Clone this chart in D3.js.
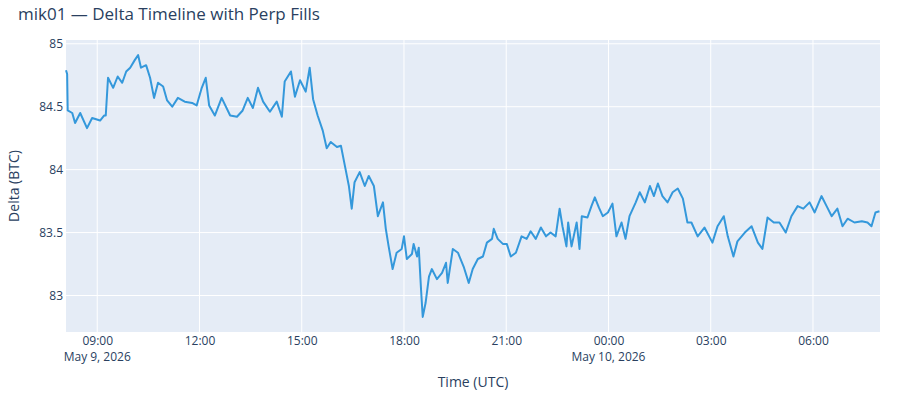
<!DOCTYPE html>
<html lang="en">
<head>
<meta charset="UTF-8">
<title>Delta Timeline</title>
<script src="https://cdn.jsdelivr.net/npm/d3@7"></script>
<style>
  body { margin: 0; background: #fff; font-family: "Open Sans", sans-serif; }
  text { fill: #2a3f5f; }
</style>
</head>
<body>
<script>
// minutes after 2026-05-09 08:00 UTC
const minutes = [5,7,8,16,21,30,42,51,65,72,75,79,88,96,104,111,118,126,132,137,146,153,160,167,176,183,192,202,214,227,235,244,251,257,267,279,294,306,316,325,334,343,352,364,376,385,390,401,408,417,427,434,440,
  448,457,464,471,482,489,496,503,508,513,522,531,538,547,554,563,568,573,580,587,596,600,605,614,617,623,626,630,633,638,644,649,658,667,674,677,686,695,705,714,721,730,739,746,755,758,765,774,781,788,797,807,816,823,832,841,850,858,867,874,879,886,
  889,895,904,909,913,923,930,936,943,950,959,967,974,983,990,997,1008,1015,1024,1033,1040,1047,1055,1064,1073,1082,1091,1099,1106,1117,1129,1143,1152,1163,1170,1180,1187,1200,1212,1223,1231,1240,1251,1261,1272,1282,1293,1303,1314,1323,1335,1344,1353,1363,1372,1381,1393,1406,1416,1423,1430,1437];
const delta = [84.79,84.76,84.47,84.45,84.37,84.45,84.33,84.41,84.39,84.43,84.43,84.73,84.65,84.74,84.69,84.78,84.81,84.87,84.91,84.81,84.83,84.73,84.57,84.69,84.66,84.55,84.50,84.57,84.54,84.53,84.51,84.65,84.73,84.51,84.43,84.57,84.43,84.42,84.47,84.57,84.49,84.65,84.54,84.46,84.54,84.42,84.70,84.78,84.58,84.71,84.62,84.81,84.56,
  84.43,84.31,84.17,84.22,84.18,84.19,84.03,83.87,83.69,83.90,83.98,83.87,83.95,83.87,83.63,83.74,83.53,83.39,83.21,83.34,83.37,83.47,83.29,83.33,83.41,83.31,83.38,83.05,82.83,82.94,83.15,83.21,83.13,83.18,83.26,83.10,83.37,83.34,83.23,83.10,83.21,83.29,83.31,83.42,83.45,83.53,83.45,83.41,83.41,83.31,83.34,83.47,83.45,83.51,83.45,83.54,83.47,83.50,83.47,83.69,83.55,83.39,
  83.58,83.39,83.58,83.37,83.63,83.62,83.71,83.78,83.70,83.63,83.66,83.73,83.47,83.58,83.45,83.63,83.74,83.82,83.74,83.87,83.79,83.89,83.79,83.74,83.82,83.85,83.77,83.58,83.58,83.47,83.54,83.42,83.55,83.63,83.47,83.31,83.43,83.50,83.55,83.42,83.37,83.62,83.58,83.58,83.50,83.63,83.71,83.69,83.74,83.66,83.79,83.71,83.63,83.69,83.55,83.61,83.58,83.59,83.58,83.55,83.66,83.67];
const yTicks = [83, 83.5, 84, 84.5, 85];
const xTickHours = ["09:00","12:00","15:00","18:00","21:00","00:00","03:00","06:00"];

const width = 900, height = 400;
const m = {left: 66, right: 20, top: 40, bottom: 68};
const t0 = Date.UTC(2026, 4, 9, 8, 0);
const toDate = mm => new Date(t0 + mm * 60000);

const svg = d3.select("body").append("svg").attr("width", width).attr("height", height);

const x = d3.scaleUtc().domain([toDate(5), toDate(1438)]).range([m.left, width - m.right]);
const y = d3.scaleLinear().domain([82.71, 85.03]).range([height - m.bottom, m.top]);

svg.append("rect").attr("x", m.left).attr("y", m.top)
  .attr("width", width - m.left - m.right).attr("height", height - m.top - m.bottom)
  .attr("fill", "#e5ecf6");

const xTicks = xTickHours.map((s, i) => toDate(60 + i * 180));

// grid
svg.append("g").selectAll("line").data(xTicks).join("line")
  .attr("x1", d => x(d)).attr("x2", d => x(d)).attr("y1", m.top).attr("y2", height - m.bottom)
  .attr("stroke", "#fff").attr("stroke-width", 1);
svg.append("g").selectAll("line").data(yTicks).join("line")
  .attr("x1", m.left).attr("x2", width - m.right).attr("y1", d => y(d)).attr("y2", d => y(d))
  .attr("stroke", "#fff").attr("stroke-width", 1);

// axes labels
const xAxis = d3.axisBottom(x).tickValues(xTicks).tickSize(0).tickPadding(4)
  .tickFormat((d, i) => xTickHours[i]);
const gx = svg.append("g").attr("transform", `translate(0,${height - m.bottom})`).call(xAxis);
gx.select(".domain").remove();
gx.selectAll("text").attr("font-size", 12).attr("fill", "#2a3f5f").attr("font-family", "Open Sans");

const dates = [[xTicks[0], "May 9, 2026"], [xTicks[5], "May 10, 2026"]];
svg.append("g").selectAll("text").data(dates).join("text")
  .attr("x", d => x(d[0])).attr("y", height - m.bottom + 29)
  .attr("text-anchor", "middle").attr("font-size", 12).text(d => d[1]);

const yAxis = d3.axisLeft(y).tickValues(yTicks).tickSize(0).tickPadding(3).tickFormat(d3.format("~g"));
const gy = svg.append("g").attr("transform", `translate(${m.left},0)`).call(yAxis);
gy.select(".domain").remove();
gy.selectAll("text").attr("font-size", 12).attr("fill", "#2a3f5f").attr("font-family", "Open Sans");

// line
const line = d3.line().x((d, i) => x(toDate(minutes[i]))).y(d => y(d));
svg.append("path").datum(delta).attr("d", line)
  .attr("fill", "none").attr("stroke", "#3498db").attr("stroke-width", 2).attr("stroke-linejoin", "round");

// titles
svg.append("text").attr("x", 18).attr("y", 20).attr("font-size", 17).text("mik01 — Delta Timeline with Perp Fills");
svg.append("text").attr("x", (m.left + width - m.right) / 2).attr("y", 387)
  .attr("text-anchor", "middle").attr("font-size", 14).text("Time (UTC)");
svg.append("text").attr("transform", `translate(19,${(m.top + height - m.bottom) / 2}) rotate(-90)`)
  .attr("text-anchor", "middle").attr("font-size", 14).text("Delta (BTC)");
</script>
</body>
</html>
